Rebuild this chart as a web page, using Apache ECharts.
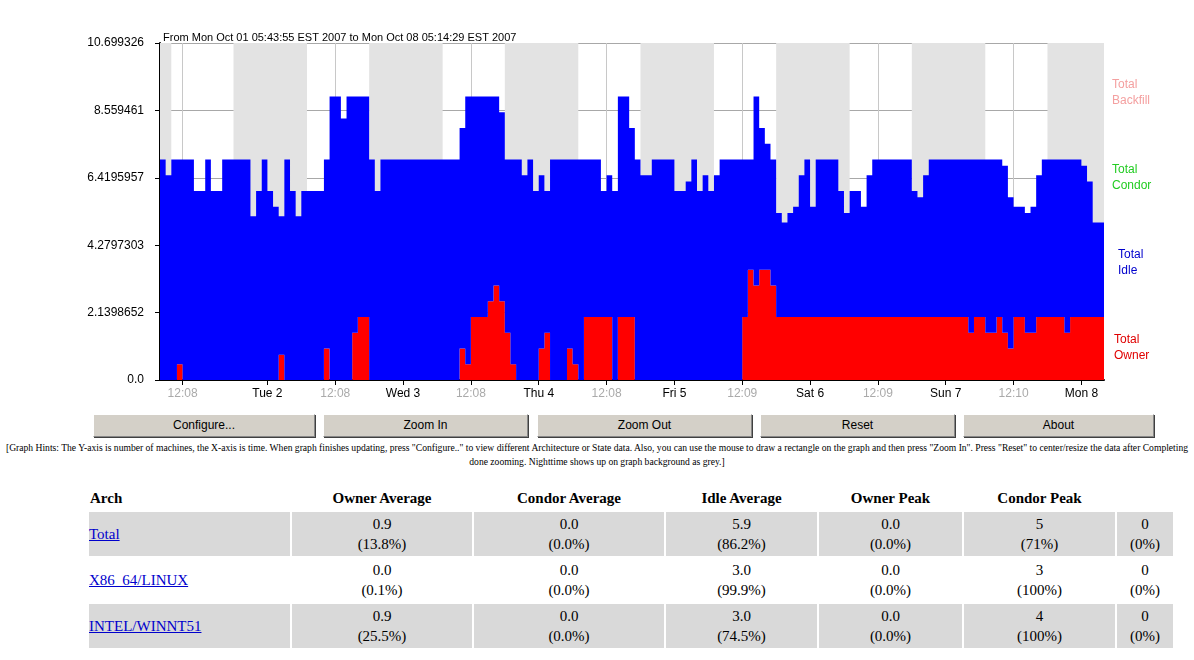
<!DOCTYPE html>
<html><head><meta charset="utf-8">
<script src="https://cdn.jsdelivr.net/npm/echarts@6/dist/echarts.min.js"></script>
<style>
body{margin:0;background:#fff;font-family:"Liberation Serif",serif;width:1194px;height:660px;overflow:hidden;position:relative}
#chart{position:absolute;left:0;top:0;width:1194px;height:400px}
.btn{position:absolute;top:414px;height:21px;background:#d4d0c8;border:1px solid #888;border-top-color:#fff;border-left-color:#fff;box-shadow:1px 1px 0 #404040;font:12px Arial,sans-serif;text-align:center;line-height:21px}
#hint{position:absolute;top:441px;left:-60px;width:1314px;font-size:9.6px;text-align:center;line-height:14px;white-space:nowrap}
table{position:absolute;top:484px;left:87px;border-collapse:separate;border-spacing:2px;font-size:15px}
td{text-align:center;height:44px;line-height:20px;padding:0}
th{font-weight:bold;text-align:center;height:22px}
tr.g td{background:#d9d9d9}
a{color:#00c;text-decoration:underline}
</style></head><body>
<div id="chart"></div>
<div class="btn" style="left:93px;width:220px">Configure...</div>
<div class="btn" style="left:323px;width:203px">Zoom In</div>
<div class="btn" style="left:537px;width:213px">Zoom Out</div>
<div class="btn" style="left:760px;width:193px">Reset</div>
<div class="btn" style="left:963px;width:189px">About</div>
<div id="hint">[Graph Hints: The Y-axis is number of machines, the X-axis is time. When graph finishes updating, press "Configure.." to view different Architecture or State data. Also, you can use the mouse to draw a rectangle on the graph and then press "Zoom In". Press "Reset" to center/resize the data after Completing<br>done zooming. Nighttime shows up on graph background as grey.]</div>
<table id="tbl"></table>
<script>
// hourly samples from Mon Oct 01 05:44 EST (12 per row)
var totalMachines = [
7,7,6.5,7,7,7,7,6,6,7,6,6,
7,7,7,7,7,5.2,6,7,6,5.5,5.2,7,
6,5.2,6,6,6,6,7,9,9,8.3,9,9,
9,9,7,6,7,7,7,7,7,7,7,7,
7,7,7,7,7,7,8,9,9,9,9,9,
9,8.5,7,7,7,6.5,7,6,6.5,6,7,7,
7,7,7,7,7,7,7,6,6.5,6,9,9,
8,7,6.5,6.5,7,7,7,7,6,6,6.3,7,
6,6.5,6,6.5,7,7,7,7,7,7,9,8,
7.5,7,5.3,5,5.3,5.5,6.5,7,5.5,7,7,7,
7,6,5.3,6,6,5.5,6.5,7,7,7,7,7,
7,7,6,5.8,6.5,7,7,7,7,7,7,7,
7,7,7,7,7,7,6.8,5.8,5.5,5.5,5.3,5.5,
6.5,7,7,7,7,7,7,7,6.8,6.3,5,5
];
var ownerMachines = [
0,0,0,0,0.5,0,0,0,0,0,0,0,
0,0,0,0,0,0,0,0,0,0,0.8,0,
0,0,0,0,0,0,1,0,0,0,0,1.5,
2,2,0,0,0,0,0,0,0,0,0,0,
0,0,0,0,0,0,1,0.5,2,2,2,2.5,
3,2.5,1.5,0.5,0,0,0,0,1,1.5,0,0,
0,1,0.5,0,2,2,2,2,2,0,2,2,
2,0,0,0,0,0,0,0,0,0,0,0,
0,0,0,0,0,0,0,0,2,3.5,3,3.5,
3.5,3,2,2,2,2,2,2,2,2,2,2,
2,2,2,2,2,2,2,2,2,2,2,2,
2,2,2,2,2,2,2,2,2,2,2,2,
1.5,2,2,1.5,1.5,2,1.5,1,2,2,1.5,1.5,
2,2,2,2,2,1.5,2,2,2,2,2,2
];
var idleMachines = totalMachines.map(function(t, i){ return t - ownerMachines[i]; });
var hours = totalMachines.map(function(v, i){ return String(i); });
var nightBands = [[0,2],[13,26],[37,50],[61,74],[85,98],[109,122],[133,146],[157,167]];
var tickHours = [4,19,31,43,55,67,79,91,103,115,127,139,151,163];
var tickLabels = ['12:08','Tue 2','12:08','Wed 3','12:08','Thu 4','12:08','Fri 5','12:09','Sat 6','12:09','Sun 7','12:10','Mon 8'];
var yTickLabels = ['0.0','2.1398652','4.2797303','6.4195957','8.559461','10.699326'];
var yStep = 2.1398652;

var chart = echarts.init(document.getElementById('chart'));
var isTick = function(i){ return tickHours.indexOf(i) >= 0; };
chart.setOption({
  animation: false,
  grid: {left: 160, right: 90, top: 43, bottom: 17},
  title: {text: 'From Mon Oct 01 05:43:55 EST 2007 to Mon Oct 08 05:14:29 EST 2007', left: 158, top: 27,
    textStyle: {fontSize: 11, fontWeight: 'normal', color: '#000', fontFamily: 'Arial'}},
  xAxis: {type: 'category', data: hours, boundaryGap: false,
    axisLine: {lineStyle: {color: '#000', width: 2}},
    axisTick: {interval: function(i){ return isTick(i); }, length: 5, lineStyle: {color: '#000'}},
    splitLine: {show: true, interval: function(i){ return isTick(i); }, lineStyle: {color: '#c8c8c8'}},
    axisLabel: {interval: function(i){ return isTick(i); }, margin: 8,
      formatter: function(v){ var k = tickHours.indexOf(+v); var s = tickLabels[k];
        return s.indexOf(':') > 0 ? '{g|' + s + '}' : '{b|' + s + '}'; },
      rich: {g: {color: '#aaa', fontSize: 12, fontFamily: 'Arial'}, b: {color: '#000', fontSize: 12, fontFamily: 'Arial'}}}},
  yAxis: {type: 'value', min: 0, max: yStep * 5, interval: yStep,
    axisLine: {show: true, lineStyle: {color: '#000', width: 2}},
    axisTick: {show: true, length: 5, lineStyle: {color: '#000'}},
    splitLine: {lineStyle: {color: '#a8a8a8'}},
    axisLabel: {margin: 16, color: '#000', fontSize: 12, fontFamily: 'Arial',
      formatter: function(v){ return yTickLabels[Math.round(v / yStep)]; }}},
  graphic: [
    {type: 'text', left: 1112, top: 77, style: {text: 'Total\nBackfill', fill: '#f4a0a0', font: '12px Arial', align: 'center', lineHeight: 16}},
    {type: 'text', left: 1112, top: 162, style: {text: 'Total\nCondor', fill: '#22cc22', font: '12px Arial', align: 'center', lineHeight: 16}},
    {type: 'text', left: 1118, top: 247, style: {text: 'Total\nIdle', fill: '#0000cc', font: '12px Arial', align: 'center', lineHeight: 16}},
    {type: 'text', left: 1114, top: 332, style: {text: 'Total\nOwner', fill: '#e00000', font: '12px Arial', align: 'center', lineHeight: 16}}
  ],
  series: [
    {type: 'line', name: 'Owner', stack: 'm', step: 'start', data: ownerMachines, symbol: 'none',
      lineStyle: {width: 0}, areaStyle: {color: '#ff0000', opacity: 1},
      markArea: {silent: true, itemStyle: {color: '#e3e3e3'},
        data: nightBands.map(function(b){ return [{xAxis: String(b[0])}, {xAxis: String(b[1])}]; })}},
    {type: 'line', name: 'Idle', stack: 'm', step: 'start', data: idleMachines, symbol: 'none',
      lineStyle: {width: 0}, areaStyle: {color: '#0000ff', opacity: 1}}
  ]
});

// summary table
var tblHead = ['Arch','Owner Average','Condor Average','Idle Average','Owner Peak','Condor Peak',''];
var tblRows = [
  ['Total', ['0.9','(13.8%)'], ['0.0','(0.0%)'], ['5.9','(86.2%)'], ['0.0','(0.0%)'], ['5','(71%)'], ['0','(0%)']],
  ['X86_64/LINUX', ['0.0','(0.1%)'], ['0.0','(0.0%)'], ['3.0','(99.9%)'], ['0.0','(0.0%)'], ['3','(100%)'], ['0','(0%)']],
  ['INTEL/WINNT51', ['0.9','(25.5%)'], ['0.0','(0.0%)'], ['3.0','(74.5%)'], ['0.0','(0.0%)'], ['4','(100%)'], ['0','(0%)']]
];
var colW = [199,178,188,149,141,149,54];
var html = '<tr>' + tblHead.map(function(h, i){ return '<th style="width:' + colW[i] + 'px;' + (i == 0 ? 'text-align:left' : '') + '">' + h + '</th>'; }).join('') + '</tr>';
tblRows.forEach(function(r, k){
  html += '<tr class="' + (k % 2 == 0 ? 'g' : '') + '"><td style="text-align:left"><a>' + r[0] + '</a></td>' +
    r.slice(1).map(function(c){ return '<td>' + c[0] + '<br>' + c[1] + '</td>'; }).join('') + '</tr>';
});
document.getElementById('tbl').innerHTML = html;
</script>
</body></html>
